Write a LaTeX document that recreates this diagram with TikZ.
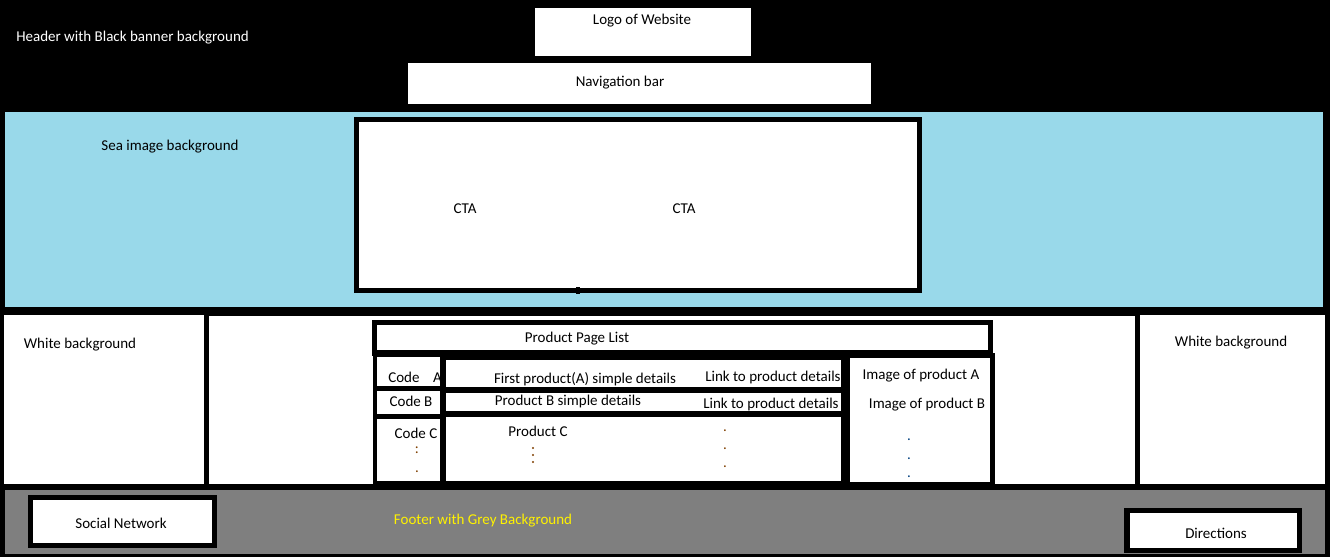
\documentclass[tikz,border=0pt]{standalone}
\usepackage{fontspec}
\setmainfont{Carlito}
\definecolor{seablue}{RGB}{153,217,234}
\definecolor{footergrey}{RGB}{127,127,127}
\definecolor{footeryellow}{RGB}{255,242,0}
\definecolor{dotbrown}{RGB}{128,64,0}
\definecolor{dotblue}{RGB}{0,64,128}
\begin{document}
\begin{tikzpicture}
  [x=0.75pt,y=-0.75pt,
   every node/.style={font=\fontsize{11.25}{13}\selectfont,inner sep=0pt,yshift=-1.5pt},
   hdr/.style={text=white,anchor=west},
   ftr/.style={text=footeryellow},
   dotb/.style={text=dotbrown},
   dotc/.style={text=dotblue},
   vdot/.style={circle,fill=dotbrown,minimum size=1.6pt}]

  % page background
  \fill[black] (0,0) rectangle (1330,557);
  \useasboundingbox (0,0) rectangle (1330,557);

  % header
  \fill[white] (535,8) rectangle (751,56);
  \fill[white] (408,63) rectangle (871,104);
  \node[hdr] (header) at (16,36) {Header with Black banner background};
  \node (logo) at (642,19) {Logo of Website};
  \node (nav) at (620,81) {Navigation bar};

  % sea image area
  \fill[seablue] (5,112) rectangle (1323,307);
  \fill[black] (354,117) rectangle (922,293);
  \fill[white] (359,122) rectangle (917,288);
  \fill[black] (576,287) rectangle (580,294);
  \node (sea) at (170,145) {Sea image background};
  \node (cta1) at (465,207) {CTA};
  \node (cta2) at (684,207) {CTA};

  % white panels
  \fill[white] (4,315) rectangle (204,484);
  \fill[white] (209,316) rectangle (1135,484);
  \fill[white] (1140,315) rectangle (1325,484);
  \node (whiteL) at (80,343) {White background};
  \node (whiteR) at (1231,341) {White background};

  % product table
  \fill[black] (372,320) rectangle (993,356);
  \fill[black] (373,353) rectangle (995,486);
  \fill[white] (377,325) rectangle (988,350);
  \fill[white] (377,357) rectangle (440,386);
  \fill[white] (377,391) rectangle (440,414);
  \fill[white] (377,419) rectangle (440,481);
  \fill[white] (446,360) rectangle (841,387);
  \fill[white] (446,393) rectangle (841,411);
  \fill[white] (446,417) rectangle (841,481);
  \fill[white] (850,358) rectangle (990,482);
  \node (list) at (577,337) {Product Page List};
  \node[anchor=west] (codeA) at (388,375) {Code~~~~A};
  \node (codeB) at (411,399) {Code B};
  \node (codeC) at (416,431) {Code C};
  \node[dotb] (codeCol) at (417,448) {:};
  \node[dotb] (codeDot) at (417,470) {.};
  \node (prodA) at (585,377) {First product(A) simple details};
  \node (prodB) at (568,399) {Product B simple details};
  \node (prodC) at (538,429) {Product C};
  \node[anchor=west] (linkA) at (705,375) {Link to product details};
  \node[anchor=west] (linkB) at (703,402) {Link to product details};
  \node (imgA) at (921,374) {Image of product A};
  \node (imgB) at (927,403) {Image of product B};
  \foreach \y in {448,455,462}
    \node[vdot,yshift=1.5pt] (prod\y) at (533,\y) {};
  \foreach \y in {429,447,465}
    \node[dotb] (link\y) at (725,\y) {.};
  \foreach \y in {438,457,475}
    \node[dotc] (img\y) at (909,\y) {.};

  % footer
  \fill[footergrey] (5,490) rectangle (1325,554);
  \fill[black] (28,495) rectangle (217,548);
  \fill[white] (33,500) rectangle (212,543);
  \fill[black] (1124,508) rectangle (1302,553);
  \fill[white] (1130,513) rectangle (1297,548);
  \node (social) at (121,521) {Social Network};
  \node[ftr] (footer) at (483,519) {Footer with Grey Background};
  \node (dirs) at (1216,531) {Directions};

\end{tikzpicture}
\end{document}
